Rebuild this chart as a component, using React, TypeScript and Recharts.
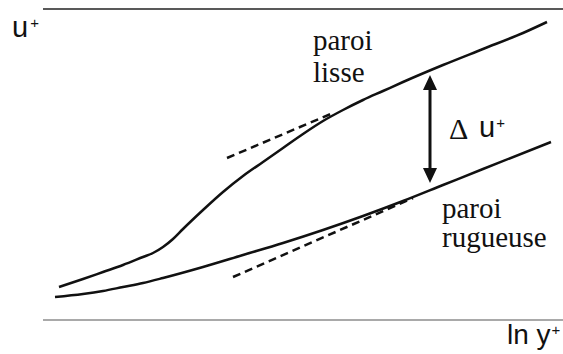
import { LineChart, Line, XAxis, YAxis, ReferenceLine } from "recharts";

// ln y+ / u+ readings for the two velocity profiles
const SMOOTH_LNY = [0.4, 1, 1.5, 2, 2.5, 2.75, 3, 3.25, 3.5, 4, 4.5, 5, 5.5, 6, 6.5, 7, 7.5, 8, 8.5, 9, 10, 11, 12, 12.6];
const SMOOTH_U = [3.3, 4.1, 4.8, 5.5, 6.3, 6.7, 7.3, 8.1, 9.1, 11.0, 12.8, 14.4, 15.8, 17.2, 18.6, 19.9, 21.0, 22.0, 22.9, 23.8, 25.5, 27.1, 28.7, 29.8];

const ROUGH_LNY = [0.3, 1, 1.5, 2, 2.5, 3, 4, 5, 6, 7, 8, 9, 10, 11, 12.7];
const ROUGH_U = [2.3, 2.6, 2.9, 3.3, 3.7, 4.2, 5.3, 6.5, 7.7, 9.0, 10.4, 11.9, 13.5, 15.1, 17.8];

// log-law tangents (dashed)
const SMOOTH_LOG_LNY = [4.6, 7.25];
const SMOOTH_LOG_U = [16.2, 20.7];
const ROUGH_LOG_LNY = [4.75, 9.25];
const ROUGH_LOG_U = [4.3, 12.2];

// Δu+ arrow
const SHIFT_LNY = 9.675;
const SHIFT_U = [13.7, 24.5];

const X_DOMAIN = [0, 13];
const Y_DOMAIN = [0, 31.1];

const toPoints = (xs: number[], ys: number[]) => xs.map((x, i) => ({ x, y: ys[i] }));

const smooth = toPoints(SMOOTH_LNY, SMOOTH_U);
const rough = toPoints(ROUGH_LNY, ROUGH_U);
const smoothLog = toPoints(SMOOTH_LOG_LNY, SMOOTH_LOG_U);
const roughLog = toPoints(ROUGH_LOG_LNY, ROUGH_LOG_U);

const SERIF = "Liberation Serif, Tinos, Times New Roman, DejaVu Serif, serif";
const SANS = "Liberation Sans, Arimo, Arial, sans-serif";

// labels positioned as plain html over the chart
const label = (left: number, top: number, family: string, size: number): React.CSSProperties => ({
	position: "absolute",
	left,
	top,
	fontFamily: family,
	fontSize: size,
	lineHeight: 1,
	color: "#111",
	whiteSpace: "nowrap",
});

// double-headed vertical arrow drawn from the reference line's scaled ends
function DoubleArrow(props: any) {
	const { x1, y1, x2, y2 } = props;
	const top = Math.min(y1, y2);
	const bottom = Math.max(y1, y2);
	const head = 15;
	const half = 7;
	return (
		<g>
			<line x1={x1} y1={top + head - 2} x2={x2} y2={bottom - head + 2} stroke="#111" strokeWidth={3} />
			<polygon points={`${x1},${top} ${x1 - half},${top + head} ${x1 + half},${top + head}`} fill="#111" />
			<polygon points={`${x1},${bottom} ${x1 - half},${bottom - head} ${x1 + half},${bottom - head}`} fill="#111" />
		</g>
	);
}

export default function App() {
	return (
		<div style={{ position: "absolute", left: 0, top: 0, width: 563, height: 354, background: "#fff" }}>
			<LineChart width={563} height={354} margin={{ top: 9, right: 0, left: 43, bottom: 34 }}>
				<XAxis type="number" dataKey="x" domain={X_DOMAIN} hide />
				<YAxis type="number" dataKey="y" domain={Y_DOMAIN} hide />
				<ReferenceLine y={Y_DOMAIN[1]} stroke="#222" strokeWidth={1.5} ifOverflow="visible" />
				<ReferenceLine y={Y_DOMAIN[0]} stroke="#8c8c8c" strokeWidth={1.5} ifOverflow="visible" />

				<Line
					data={smoothLog}
					dataKey="y"
					type="linear"
					stroke="#111"
					strokeWidth={2.5}
					strokeDasharray="8 5"
					dot={false}
					isAnimationActive={false}
				/>
				<Line
					data={roughLog}
					dataKey="y"
					type="linear"
					stroke="#111"
					strokeWidth={2.5}
					strokeDasharray="8 5"
					dot={false}
					isAnimationActive={false}
				/>
				<Line
					data={smooth}
					dataKey="y"
					type="monotone"
					stroke="#111"
					strokeWidth={2.5}
					dot={false}
					isAnimationActive={false}
				/>
				<Line
					data={rough}
					dataKey="y"
					type="monotone"
					stroke="#111"
					strokeWidth={2.5}
					dot={false}
					isAnimationActive={false}
				/>
				<ReferenceLine
					segment={[
						{ x: SHIFT_LNY, y: SHIFT_U[0] },
						{ x: SHIFT_LNY, y: SHIFT_U[1] },
					]}
					shape={DoubleArrow}
					ifOverflow="visible"
				/>
			</LineChart>

			{/* Labels */}
			<div style={label(12, 13, SANS, 29)}>
				u<sup style={{ fontSize: 15, verticalAlign: 9, marginLeft: 2 }}>+</sup>
			</div>
			<div style={label(313, 26, SERIF, 29)}>
				paroi
				<br />
				<span style={{ display: "inline-block", marginTop: 3 }}>lisse</span>
			</div>
			<div style={label(449, 114, SERIF, 30)}>Δ</div>
			<div style={label(479, 113, SANS, 29)}>
				u<sup style={{ fontSize: 15, verticalAlign: 9, marginLeft: 1 }}>+</sup>
			</div>
			<div style={label(442, 194, SERIF, 29)}>
				paroi
				<br />
				rugueuse
			</div>
			<div style={label(507, 321, SANS, 28)}>
				ln y<sup style={{ fontSize: 15, verticalAlign: 9, marginLeft: 1 }}>+</sup>
			</div>
		</div>
	);
}
